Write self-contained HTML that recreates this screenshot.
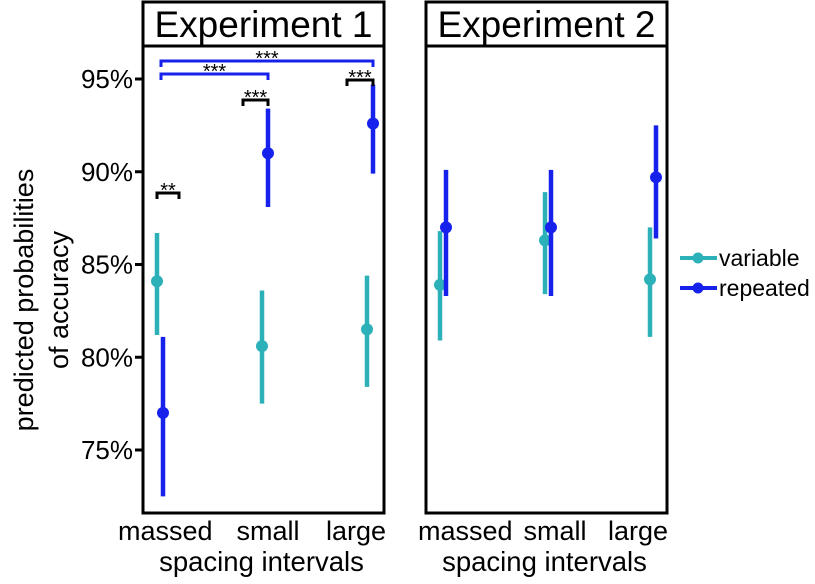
<!DOCTYPE html>
<html><head><meta charset="utf-8">
<style>
html,body{margin:0;padding:0;background:#fff;width:815px;height:584px;overflow:hidden}
svg{font-family:"Liberation Sans",Arial,sans-serif}
</style></head>
<body>
<svg id="chart" width="815" height="584">
  <g>
    <text transform="translate(33,300) rotate(-90)" text-anchor="middle" font-size="27">predicted probabilities</text>
    <text transform="translate(68,300) rotate(-90)" text-anchor="middle" font-size="27">of accuracy</text>
  </g>
</svg>
<script>
const categories = ["massed","small","large"];
const yTicks = [75,80,85,90,95];
const exp1Variable = [84.1,80.6,81.5];
const exp1VariableLo = [81.2,77.5,78.4];
const exp1VariableHi = [86.7,83.6,84.4];
const exp1Repeated = [77.0,91.0,92.6];
const exp1RepeatedLo = [72.5,88.1,89.9];
const exp1RepeatedHi = [81.1,93.4,94.7];
const exp2Variable = [83.9,86.3,84.2];
const exp2VariableLo = [80.9,83.4,81.1];
const exp2VariableHi = [86.8,88.9,87.0];
const exp2Repeated = [87.0,87.0,89.7];
const exp2RepeatedLo = [83.3,83.3,86.4];
const exp2RepeatedHi = [90.1,90.1,92.5];

const NS="http://www.w3.org/2000/svg";
const svgEl=document.getElementById('chart');
const TEAL="#2cb1b9", BLUE="#1622ec";
function yScale(v){return 79+(95-v)*18.55;}
function mk(tag,attrs,parent){const e=document.createElementNS(NS,tag);for(const k in attrs)e.setAttribute(k,attrs[k]);(parent||svgEl).appendChild(e);return e;}
const panels=[{x0:143,x1:384,title:"Experiment 1",lab:[[118,'start'],[268,'middle'],[386,'end']],v:[exp1Variable,exp1VariableLo,exp1VariableHi],r:[exp1Repeated,exp1RepeatedLo,exp1RepeatedHi]},
              {x0:426,x1:667,title:"Experiment 2",lab:[[418,'start'],[555,'middle'],[668,'end']],v:[exp2Variable,exp2VariableLo,exp2VariableHi],r:[exp2Repeated,exp2RepeatedLo,exp2RepeatedHi]}];
const panelTop=46,panelBottom=513;
panels.forEach((p,pi)=>{
  const g=mk('g',{});
  
  
  function xc(i){return p.x0+17+i*105;}
  const strip=mk('rect',{x:p.x0,y:2,width:p.x1-p.x0,height:panelTop-2,fill:'#fff',stroke:'#000','stroke-width':3},g);
  
  
  const st=mk('text',{x:(p.x0+p.x1)/2,y:37,'text-anchor':'middle','font-size':37},g);
  st.textContent=p.title;
  
  
  const box=mk('rect',{x:p.x0,y:panelTop,width:p.x1-p.x0,height:panelBottom-panelTop,fill:'none',stroke:'#000','stroke-width':3},g);
  
  
  categories.forEach((c,i)=>{
    const t=mk('text',{x:p.lab[i][0],y:540,'text-anchor':p.lab[i][1],'font-size':27},g);
    t.textContent=c;
    
    
  });
  const xt=mk('text',{x:(p.x0+p.x1)/2-2,y:571,'text-anchor':'middle','font-size':27.5},g);
  xt.textContent="spacing intervals";
  
  
  [[p.v,TEAL,-3,'variable'],[p.r,BLUE,3,'repeated']].forEach(([s,col,dx,nm])=>{
    s[0].forEach((val,i)=>{
      const x=xc(i)+dx;
      const l=mk('line',{x1:x,x2:x,y1:yScale(s[1][i]),y2:yScale(s[2][i]),stroke:col,'stroke-width':4.5},g);
      
      
      const c=mk('circle',{cx:x,cy:yScale(val),r:6,fill:col},g);
      
      
    });
  });
  if(pi===0){
    yTicks.forEach(v=>{
      const tl=mk('line',{x1:135,x2:143,y1:yScale(v),y2:yScale(v),stroke:'#000','stroke-width':3});
      
      
      const t=mk('text',{x:133,y:yScale(v)+9,'text-anchor':'end','font-size':26});
      t.textContent=v+'%';
      
      
    });
    const br=[[xc(0)+1,xc(2)+3,61,BLUE,'***'],[xc(0)+1,xc(1)+3,74,BLUE,'***'],
              [xc(0)-3,xc(0)+19,193,'#000','**'],[xc(1)-22,xc(1)+3,100,'#000','***'],[xc(2)-23,xc(2)+3,80,'#000','***']];
    br.forEach(b=>{
      const pth=mk('path',{d:`M${b[0]},${b[2]+6}V${b[2]}H${b[1]}V${b[2]+6}`,fill:'none',stroke:b[3],'stroke-width':3});
      
      
      const t=mk('text',{x:(b[0]+b[1])/2,y:b[2]+4,'text-anchor':'middle','font-size':20});
      t.textContent=b[4];
      
      
    });
  }
});
[['variable',TEAL,258],['repeated',BLUE,288]].forEach(([nm,col,yy])=>{
  const g=mk('g',{});
  
  
  mk('line',{x1:680,x2:717,y1:yy,y2:yy,stroke:col,'stroke-width':4},g);
  mk('circle',{cx:698,cy:yy,r:5.5,fill:col},g);
  const t=mk('text',{x:719,y:yy+8,'font-size':23},g);
  t.textContent=nm;
});
</script>
</body></html>
